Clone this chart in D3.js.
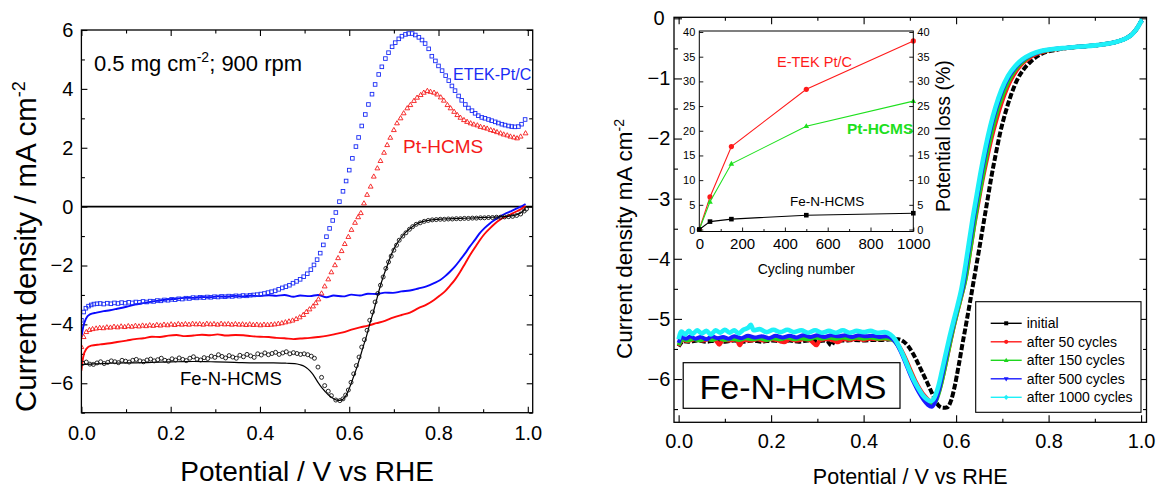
<!DOCTYPE html>
<html>
<head>
<meta charset="utf-8">
<script src="https://cdn.jsdelivr.net/npm/d3@7"></script>
<style>
  body { margin: 0; background: #fff; }
  svg text { font-family: Arial, "Liberation Sans", Helvetica, sans-serif; }
</style>
</head>
<body>
<svg id="chart" width="1161" height="488"></svg>
<script>
// ---------- Left panel: ORR polarisation, 0.5 mg cm-2, 900 rpm ----------
const potentialTicks = [0, 0.2, 0.4, 0.6, 0.8, 1.0];
const potentialMinorTicks = [0.1, 0.3, 0.5, 0.7, 0.9];
const currentTicksLeft = [-6, -4, -2, 0, 2, 4, 6];
const currentMinorTicksLeft = [-7, -5, -3, -1, 1, 3, 5];

// ETEK-Pt/C, open squares
const etekPtC_markers = [
  [0.000,-3.86],[0.005,-3.58],[0.010,-3.45],[0.016,-3.38],[0.022,-3.34],[0.028,-3.31],[0.035,-3.30],[0.042,-3.29],
  [0.050,-3.31],[0.058,-3.28],[0.066,-3.30],[0.074,-3.27],[0.082,-3.29],[0.090,-3.26],[0.098,-3.28],[0.106,-3.25],
  [0.114,-3.27],[0.122,-3.24],[0.130,-3.25],[0.138,-3.22],[0.146,-3.24],[0.154,-3.21],[0.162,-3.22],[0.170,-3.19],
  [0.178,-3.20],[0.186,-3.17],[0.194,-3.18],[0.202,-3.15],[0.210,-3.16],[0.218,-3.13],[0.226,-3.14],[0.234,-3.11],
  [0.242,-3.12],[0.250,-3.09],[0.258,-3.10],[0.266,-3.08],[0.274,-3.09],[0.282,-3.07],[0.290,-3.08],[0.298,-3.06],
  [0.306,-3.07],[0.314,-3.05],[0.322,-3.06],[0.330,-3.04],[0.338,-3.05],[0.346,-3.03],[0.354,-3.04],[0.362,-3.02],
  [0.370,-3.03],[0.378,-3.01],[0.386,-3.00],[0.394,-2.99],[0.402,-2.97],[0.410,-2.95],[0.418,-2.92],[0.426,-2.89],
  [0.434,-2.86],[0.442,-2.81],[0.450,-2.76],[0.458,-2.72],[0.466,-2.67],[0.474,-2.60],[0.482,-2.54],[0.490,-2.47],
  [0.498,-2.38],[0.506,-2.28],[0.514,-2.14],[0.521,-1.98],[0.528,-1.80],[0.535,-1.58],[0.542,-1.30],[0.549,-1.02],
  [0.556,-0.74],[0.563,-0.47],[0.570,-0.20],[0.578,0.17],[0.586,0.52],[0.593,0.87],[0.600,1.24],[0.607,1.64],
  [0.615,2.04],[0.621,2.35],[0.628,2.74],[0.636,3.13],[0.643,3.47],[0.651,3.82],[0.658,4.15],[0.666,4.49],
  [0.673,4.75],[0.681,5.03],[0.688,5.23],[0.696,5.43],[0.703,5.57],[0.711,5.70],[0.718,5.79],[0.726,5.85],
  [0.733,5.88],[0.741,5.88],[0.748,5.83],[0.756,5.75],[0.763,5.66],[0.770,5.54],[0.778,5.36],[0.785,5.11],
  [0.793,4.95],[0.800,4.78],[0.808,4.62],[0.816,4.45],[0.823,4.28],[0.830,4.10],[0.837,3.94],[0.845,3.76],
  [0.852,3.61],[0.860,3.47],[0.867,3.35],[0.875,3.26],[0.882,3.17],[0.889,3.09],[0.897,3.03],[0.904,3.00],
  [0.912,2.96],[0.919,2.92],[0.927,2.88],[0.934,2.84],[0.942,2.80],[0.949,2.77],[0.957,2.74],[0.964,2.72],
  [0.971,2.71],[0.979,2.72],[0.986,2.80],[0.994,2.96]
];
// ETEK-Pt/C, solid line
const etekPtC_curve = [
  [0,-4.45],[0.004,-4.09],[0.010,-3.81],[0.019,-3.66],[0.034,-3.60],[0.050,-3.55],[0.064,-3.52],[0.080,-3.47],
  [0.101,-3.40],[0.120,-3.33],[0.139,-3.28],[0.160,-3.22],[0.176,-3.19],[0.195,-3.15],[0.213,-3.13],[0.230,-3.10],
  [0.251,-3.10],[0.270,-3.07],[0.288,-3.08],[0.305,-3.05],[0.325,-3.06],[0.345,-3.03],[0.363,-3.05],[0.380,-3.02],
  [0.400,-3.04],[0.420,-3.01],[0.437,-3.03],[0.455,-3.00],[0.475,-3.06],[0.490,-3.02],[0.512,-3.04],[0.530,-3.00],
  [0.549,-3.08],[0.565,-3.02],[0.586,-3.05],[0.605,-2.99],[0.624,-3.02],[0.642,-2.96],[0.661,-2.97],[0.680,-2.92],
  [0.698,-2.93],[0.717,-2.88],[0.736,-2.85],[0.755,-2.78],[0.773,-2.71],[0.790,-2.60],[0.803,-2.50],[0.815,-2.36],
  [0.825,-2.22],[0.837,-2.03],[0.848,-1.82],[0.860,-1.58],[0.870,-1.36],[0.882,-1.12],[0.892,-0.91],[0.903,-0.73],
  [0.915,-0.57],[0.926,-0.45],[0.937,-0.34],[0.948,-0.25],[0.960,-0.17],[0.971,-0.09],[0.982,-0.02],[0.995,0.09]
];
// Pt-HCMS, open triangles
const ptHcms_markers = [
  [0.000,-4.77],[0.005,-4.43],[0.011,-4.26],[0.018,-4.19],[0.025,-4.16],[0.033,-4.14],[0.041,-4.12],[0.049,-4.13],
  [0.057,-4.10],[0.065,-4.11],[0.073,-4.08],[0.081,-4.10],[0.089,-4.07],[0.097,-4.09],[0.105,-4.06],[0.113,-4.08],
  [0.121,-4.05],[0.129,-4.07],[0.137,-4.04],[0.145,-4.06],[0.153,-4.03],[0.161,-4.05],[0.169,-4.02],[0.177,-4.04],
  [0.185,-4.01],[0.193,-4.03],[0.201,-4.00],[0.209,-4.02],[0.217,-3.99],[0.225,-4.01],[0.233,-3.99],[0.241,-4.01],
  [0.249,-3.98],[0.257,-4.00],[0.265,-3.99],[0.273,-4.01],[0.281,-3.98],[0.289,-4.00],[0.297,-3.99],[0.305,-4.01],
  [0.313,-3.98],[0.321,-4.00],[0.329,-3.99],[0.337,-4.01],[0.345,-3.99],[0.353,-4.01],[0.361,-4.00],[0.369,-4.02],
  [0.377,-4.00],[0.385,-4.02],[0.393,-4.01],[0.401,-4.03],[0.409,-4.01],[0.417,-4.02],[0.425,-4.01],[0.433,-4.00],
  [0.441,-3.98],[0.449,-3.96],[0.457,-3.93],[0.465,-3.90],[0.473,-3.87],[0.481,-3.82],[0.489,-3.76],[0.497,-3.68],
  [0.504,-3.58],[0.511,-3.49],[0.519,-3.39],[0.525,-3.28],[0.531,-3.15],[0.538,-2.95],[0.545,-2.71],[0.553,-2.47],
  [0.560,-2.23],[0.568,-1.99],[0.575,-1.75],[0.583,-1.51],[0.590,-1.27],[0.598,-1.03],[0.605,-0.79],[0.613,-0.55],
  [0.620,-0.36],[0.626,-0.22],[0.633,0.11],[0.640,0.40],[0.648,0.68],[0.655,1.02],[0.663,1.30],[0.670,1.55],
  [0.678,1.83],[0.685,2.09],[0.692,2.34],[0.700,2.60],[0.707,2.83],[0.715,3.00],[0.722,3.17],[0.730,3.34],
  [0.737,3.45],[0.745,3.59],[0.752,3.70],[0.760,3.79],[0.767,3.87],[0.775,3.93],[0.782,3.90],[0.790,3.87],
  [0.797,3.81],[0.805,3.71],[0.812,3.60],[0.820,3.45],[0.827,3.34],[0.835,3.22],[0.842,3.11],[0.849,3.02],
  [0.857,2.94],[0.864,2.88],[0.872,2.83],[0.879,2.79],[0.887,2.76],[0.894,2.71],[0.902,2.68],[0.909,2.65],
  [0.917,2.60],[0.924,2.57],[0.931,2.53],[0.939,2.49],[0.946,2.45],[0.954,2.42],[0.961,2.38],[0.969,2.35],
  [0.976,2.32],[0.984,2.38],[0.995,2.49]
];
// Pt-HCMS, solid line
const ptHcms_curve = [
  [0,-5.57],[0.004,-5.11],[0.011,-4.83],[0.022,-4.72],[0.042,-4.68],[0.064,-4.64],[0.080,-4.60],[0.101,-4.55],
  [0.120,-4.50],[0.139,-4.47],[0.158,-4.42],[0.176,-4.43],[0.195,-4.38],[0.213,-4.36],[0.232,-4.40],[0.251,-4.38],
  [0.270,-4.35],[0.288,-4.37],[0.305,-4.34],[0.325,-4.38],[0.345,-4.36],[0.363,-4.37],[0.380,-4.40],[0.400,-4.42],
  [0.420,-4.43],[0.437,-4.46],[0.455,-4.47],[0.475,-4.50],[0.490,-4.48],[0.512,-4.46],[0.530,-4.43],[0.549,-4.39],
  [0.568,-4.33],[0.586,-4.27],[0.605,-4.18],[0.624,-4.10],[0.642,-4.04],[0.661,-3.96],[0.680,-3.88],[0.698,-3.77],
  [0.717,-3.68],[0.736,-3.60],[0.755,-3.45],[0.773,-3.33],[0.790,-3.17],[0.803,-3.02],[0.815,-2.87],[0.825,-2.70],
  [0.837,-2.48],[0.848,-2.23],[0.860,-1.92],[0.870,-1.66],[0.882,-1.38],[0.892,-1.15],[0.903,-0.93],[0.915,-0.74],
  [0.926,-0.58],[0.937,-0.45],[0.948,-0.36],[0.960,-0.28],[0.971,-0.19],[0.982,-0.11],[0.995,0.02]
];
// Fe-N-HCMS, open circles
const feNHcms_markers = [
  [0.003,-5.32],[0.011,-5.28],[0.019,-5.35],[0.027,-5.36],[0.035,-5.31],[0.043,-5.27],[0.051,-5.33],[0.059,-5.29],
  [0.067,-5.24],[0.075,-5.27],[0.083,-5.30],[0.091,-5.22],[0.099,-5.25],[0.107,-5.28],[0.115,-5.22],[0.123,-5.19],
  [0.131,-5.24],[0.139,-5.27],[0.147,-5.21],[0.155,-5.18],[0.163,-5.24],[0.171,-5.20],[0.179,-5.15],[0.187,-5.22],
  [0.195,-5.25],[0.203,-5.17],[0.211,-5.21],[0.219,-5.14],[0.227,-5.19],[0.235,-5.23],[0.243,-5.15],[0.251,-5.10],
  [0.259,-5.18],[0.267,-5.21],[0.275,-5.13],[0.283,-5.16],[0.291,-5.08],[0.299,-5.12],[0.307,-5.03],[0.315,-5.09],
  [0.323,-5.14],[0.331,-5.06],[0.339,-5.11],[0.347,-5.15],[0.355,-5.05],[0.363,-5.10],[0.371,-5.02],[0.379,-5.07],
  [0.387,-5.12],[0.395,-5.00],[0.403,-5.04],[0.411,-4.97],[0.419,-5.03],[0.427,-4.99],[0.435,-4.95],[0.443,-5.02],
  [0.451,-4.97],[0.459,-4.93],[0.467,-5.00],[0.475,-4.96],[0.483,-4.99],[0.491,-5.02],[0.499,-5.00],[0.507,-5.03],
  [0.515,-5.08],[0.522,-5.15],[0.530,-5.45],[0.538,-5.80],[0.545,-6.08],[0.553,-6.27],[0.560,-6.42],[0.570,-6.57],
  [0.579,-6.59],[0.586,-6.53],[0.592,-6.40],[0.598,-6.23],[0.604,-5.97],[0.610,-5.68],[0.616,-5.40],[0.622,-5.11],
  [0.628,-4.77],[0.634,-4.52],[0.640,-4.20],[0.646,-3.86],[0.652,-3.58],[0.658,-3.24],[0.664,-2.95],[0.670,-2.67],
  [0.676,-2.39],[0.682,-2.10],[0.688,-1.88],[0.694,-1.68],[0.700,-1.48],[0.706,-1.31],[0.712,-1.14],[0.720,-1.00],
  [0.727,-0.89],[0.735,-0.77],[0.742,-0.68],[0.750,-0.60],[0.759,-0.55],[0.768,-0.50],[0.777,-0.47],[0.786,-0.45],
  [0.795,-0.44],[0.804,-0.43],[0.813,-0.43],[0.822,-0.42],[0.831,-0.42],[0.840,-0.41],[0.849,-0.41],[0.858,-0.40],
  [0.867,-0.40],[0.876,-0.39],[0.885,-0.39],[0.894,-0.38],[0.903,-0.38],[0.912,-0.37],[0.921,-0.37],[0.930,-0.36],
  [0.939,-0.36],[0.948,-0.35],[0.957,-0.34],[0.966,-0.33],[0.975,-0.30],[0.984,-0.25],[0.992,-0.15],[0.997,-0.08]
];
// Fe-N-HCMS, solid line
const feNHcms_curve = [
  [0,-5.37],[0.027,-5.34],[0.064,-5.32],[0.101,-5.31],[0.140,-5.30],[0.176,-5.28],[0.215,-5.27],[0.251,-5.26],
  [0.290,-5.27],[0.325,-5.28],[0.360,-5.30],[0.400,-5.31],[0.430,-5.31],[0.460,-5.32],[0.478,-5.33],[0.490,-5.37],
  [0.500,-5.43],[0.508,-5.52],[0.516,-5.65],[0.523,-5.80],[0.530,-5.97],[0.538,-6.14],[0.546,-6.28],[0.553,-6.39],
  [0.561,-6.48],[0.568,-6.55],[0.575,-6.58],[0.582,-6.57],[0.590,-6.48],[0.596,-6.32],[0.601,-6.14],[0.608,-5.85],
  [0.616,-5.51],[0.624,-5.13],[0.631,-4.77],[0.639,-4.38],[0.646,-3.98],[0.654,-3.58],[0.661,-3.18],[0.668,-2.78],
  [0.676,-2.39],[0.684,-2.05],[0.691,-1.76],[0.698,-1.50],[0.706,-1.28],[0.717,-1.04],[0.728,-0.85],[0.740,-0.70],
  [0.751,-0.59],[0.762,-0.52],[0.773,-0.48],[0.790,-0.44],[0.811,-0.42],[0.850,-0.40],[0.886,-0.38],[0.920,-0.36],
  [0.945,-0.34],[0.960,-0.32],[0.972,-0.29],[0.982,-0.23],[0.990,-0.15],[0.995,-0.06]
];

// ---------- Right panel: Fe-N-HCMS durability ----------
const currentTicksRight = [-6, -5, -4, -3, -2, -1, 0];
const currentMinorTicksRight = [-6.5, -5.5, -4.5, -3.5, -2.5, -1.5, -0.5];
const cycleLabels = ["initial", "after 50 cycles", "after 150 cycles", "after 500 cycles", "after 1000 cycles"];
const cycleColors = ["#000000", "#ff1a1a", "#1ed61e", "#1a1aff", "#1ef0f8"];

const cyclesInitial = [
  [0.000,-5.46],[0.010,-5.37],[0.025,-5.38],[0.040,-5.36],[0.060,-5.38],[0.080,-5.36],[0.100,-5.38],[0.120,-5.36],
  [0.140,-5.38],[0.160,-5.36],[0.180,-5.38],[0.200,-5.36],[0.220,-5.37],[0.240,-5.36],[0.260,-5.38],[0.280,-5.36],
  [0.300,-5.37],[0.320,-5.36],[0.330,-5.44],[0.338,-5.36],[0.360,-5.36],[0.380,-5.35],[0.400,-5.36],[0.420,-5.35],
  [0.440,-5.35],[0.460,-5.34],[0.475,-5.34],[0.487,-5.38],[0.497,-5.46],[0.507,-5.58],[0.517,-5.73],[0.527,-5.89],
  [0.537,-6.05],[0.547,-6.22],[0.555,-6.35],[0.563,-6.45],[0.572,-6.48],[0.581,-6.47],[0.589,-6.36],[0.597,-6.12],
  [0.605,-5.80],[0.613,-5.45],[0.622,-5.07],[0.631,-4.68],[0.640,-4.28],[0.649,-3.88],[0.658,-3.47],[0.667,-3.06],
  [0.676,-2.65],[0.686,-2.25],[0.696,-1.88],[0.707,-1.56],[0.719,-1.27],[0.731,-1.04],[0.745,-0.86],[0.760,-0.73],
  [0.776,-0.63],[0.795,-0.56],[0.820,-0.52],[0.845,-0.49],[0.870,-0.47],[0.900,-0.45],[0.930,-0.42],[0.952,-0.38],
  [0.968,-0.33],[0.980,-0.27],[0.989,-0.19],[0.995,-0.12],[0.999,-0.06],[1.003,-0.03]
];
const cycles50 = [
  [0.000,-5.45],[0.008,-5.35],[0.020,-5.37],[0.035,-5.34],[0.050,-5.36],[0.065,-5.34],[0.080,-5.36],[0.088,-5.43],
  [0.096,-5.35],[0.110,-5.36],[0.125,-5.34],[0.132,-5.44],[0.140,-5.35],[0.155,-5.36],[0.170,-5.34],[0.185,-5.36],
  [0.200,-5.34],[0.215,-5.36],[0.228,-5.39],[0.240,-5.34],[0.255,-5.36],[0.270,-5.34],[0.285,-5.36],[0.298,-5.44],
  [0.306,-5.35],[0.320,-5.34],[0.335,-5.36],[0.345,-5.39],[0.355,-5.34],[0.370,-5.35],[0.385,-5.33],[0.400,-5.35],
  [0.415,-5.33],[0.430,-5.34],[0.445,-5.33],[0.460,-5.34],[0.472,-5.40],[0.482,-5.52],[0.492,-5.68],[0.502,-5.86],
  [0.512,-6.03],[0.522,-6.17],[0.532,-6.28],[0.541,-6.35],[0.549,-6.37],[0.556,-6.34],[0.563,-6.21],[0.571,-5.98],
  [0.579,-5.70],[0.587,-5.41],[0.595,-5.13],[0.604,-4.85],[0.613,-4.58],[0.622,-4.28],[0.630,-3.90],[0.638,-3.51],
  [0.647,-3.12],[0.656,-2.74],[0.666,-2.37],[0.676,-2.02],[0.687,-1.70],[0.698,-1.42],[0.711,-1.15],[0.725,-0.94],
  [0.740,-0.78],[0.757,-0.67],[0.775,-0.59],[0.796,-0.54],[0.818,-0.51],[0.845,-0.49],[0.870,-0.47],[0.900,-0.45],
  [0.930,-0.42],[0.952,-0.38],[0.968,-0.33],[0.980,-0.27],[0.989,-0.19],[0.995,-0.12],[0.999,-0.06],[1.003,-0.03]
];
const cycles150 = [
  [0.000,-5.44],[0.008,-5.34],[0.020,-5.36],[0.032,-5.33],[0.045,-5.36],[0.058,-5.33],[0.072,-5.35],[0.086,-5.32],
  [0.100,-5.35],[0.115,-5.33],[0.130,-5.35],[0.145,-5.32],[0.160,-5.34],[0.175,-5.32],[0.190,-5.35],[0.205,-5.32],
  [0.220,-5.34],[0.235,-5.31],[0.250,-5.34],[0.265,-5.32],[0.280,-5.34],[0.295,-5.31],[0.310,-5.33],[0.325,-5.31],
  [0.340,-5.33],[0.355,-5.31],[0.370,-5.33],[0.385,-5.31],[0.400,-5.33],[0.415,-5.31],[0.430,-5.33],[0.445,-5.32],
  [0.458,-5.33],[0.468,-5.38],[0.478,-5.49],[0.488,-5.64],[0.498,-5.82],[0.508,-6.00],[0.518,-6.16],[0.528,-6.29],
  [0.538,-6.38],[0.546,-6.42],[0.553,-6.41],[0.560,-6.30],[0.568,-6.08],[0.576,-5.80],[0.584,-5.51],[0.592,-5.22],
  [0.601,-4.93],[0.610,-4.66],[0.620,-4.35],[0.628,-3.98],[0.636,-3.59],[0.644,-3.20],[0.653,-2.82],[0.662,-2.44],
  [0.672,-2.07],[0.682,-1.74],[0.693,-1.45],[0.706,-1.17],[0.720,-0.95],[0.735,-0.79],[0.752,-0.67],[0.770,-0.59],
  [0.792,-0.54],[0.815,-0.51],[0.842,-0.49],[0.870,-0.47],[0.900,-0.45],[0.930,-0.42],[0.952,-0.38],[0.968,-0.33],
  [0.980,-0.27],[0.989,-0.19],[0.995,-0.12],[0.999,-0.06],[1.003,-0.03]
];
const cycles500 = [
  [0.000,-5.40],[0.006,-5.30],[0.016,-5.33],[0.026,-5.29],[0.036,-5.33],[0.048,-5.30],[0.060,-5.34],[0.072,-5.29],
  [0.084,-5.32],[0.096,-5.30],[0.108,-5.33],[0.120,-5.29],[0.135,-5.32],[0.150,-5.28],[0.165,-5.31],[0.180,-5.29],
  [0.195,-5.32],[0.210,-5.28],[0.225,-5.31],[0.240,-5.28],[0.255,-5.31],[0.270,-5.27],[0.285,-5.30],[0.300,-5.27],
  [0.315,-5.30],[0.330,-5.27],[0.345,-5.29],[0.360,-5.27],[0.375,-5.30],[0.390,-5.27],[0.405,-5.29],[0.420,-5.28],
  [0.435,-5.30],[0.448,-5.29],[0.460,-5.32],[0.470,-5.40],[0.480,-5.54],[0.490,-5.72],[0.500,-5.91],[0.510,-6.08],
  [0.520,-6.23],[0.530,-6.35],[0.539,-6.43],[0.547,-6.46],[0.555,-6.38],[0.563,-6.18],[0.571,-5.90],[0.579,-5.61],
  [0.587,-5.32],[0.596,-5.03],[0.605,-4.75],[0.615,-4.45],[0.623,-4.07],[0.631,-3.68],[0.639,-3.28],[0.648,-2.88],
  [0.657,-2.49],[0.667,-2.11],[0.677,-1.77],[0.688,-1.47],[0.701,-1.18],[0.715,-0.96],[0.730,-0.80],[0.747,-0.68],
  [0.765,-0.60],[0.788,-0.54],[0.812,-0.51],[0.840,-0.49],[0.870,-0.47],[0.900,-0.45],[0.930,-0.42],[0.952,-0.38],
  [0.968,-0.33],[0.980,-0.27],[0.989,-0.19],[0.995,-0.12],[0.999,-0.06],[1.003,-0.03]
];
const cycles1000 = [
  [0.000,-5.34],[0.006,-5.21],[0.014,-5.26],[0.022,-5.20],[0.030,-5.25],[0.040,-5.19],[0.050,-5.24],[0.060,-5.20],
  [0.070,-5.26],[0.080,-5.19],[0.090,-5.23],[0.100,-5.18],[0.110,-5.23],[0.120,-5.19],[0.130,-5.24],[0.140,-5.18],
  [0.150,-5.15],[0.156,-5.10],[0.162,-5.19],[0.175,-5.17],[0.190,-5.22],[0.205,-5.18],[0.220,-5.22],[0.235,-5.18],
  [0.250,-5.22],[0.265,-5.19],[0.280,-5.23],[0.295,-5.19],[0.310,-5.23],[0.325,-5.20],[0.340,-5.23],[0.355,-5.19],
  [0.370,-5.23],[0.385,-5.20],[0.400,-5.22],[0.415,-5.20],[0.430,-5.23],[0.445,-5.22],[0.458,-5.26],[0.468,-5.34],
  [0.478,-5.48],[0.488,-5.65],[0.498,-5.84],[0.508,-6.01],[0.518,-6.15],[0.528,-6.27],[0.537,-6.34],[0.545,-6.37],
  [0.553,-6.31],[0.561,-6.14],[0.569,-5.88],[0.577,-5.60],[0.585,-5.33],[0.594,-5.05],[0.603,-4.78],[0.612,-4.48],
  [0.620,-4.12],[0.628,-3.72],[0.636,-3.32],[0.645,-2.92],[0.654,-2.52],[0.664,-2.13],[0.674,-1.79],[0.685,-1.48],
  [0.698,-1.19],[0.712,-0.96],[0.727,-0.80],[0.744,-0.68],[0.762,-0.60],[0.785,-0.54],[0.810,-0.51],[0.840,-0.49],
  [0.870,-0.47],[0.900,-0.45],[0.930,-0.42],[0.952,-0.38],[0.968,-0.33],[0.980,-0.27],[0.989,-0.19],[0.995,-0.12],
  [0.999,-0.06],[1.003,-0.03]
];

// Inset: potential loss vs cycling number
const cyclingNumber = [0, 50, 150, 500, 1000];
const lossEtekPtC = [0, 6.6, 16.8, 28.4, 38.2];
const lossPtHcms = [0, 5.6, 13.3, 20.9, 26.0];
const lossFeNHcms = [0, 1.6, 2.1, 2.9, 3.3];
const insetCycleTicks = [0, 200, 400, 600, 800, 1000];
const insetCycleMinorTicks = [100, 300, 500, 700, 900];
const insetLossTicks = [0, 5, 10, 15, 20, 25, 30, 35, 40];

// ---------- drawing ----------
const svg = d3.select("#chart");
const fmt1 = d3.format(".1f");

function styleAxis(g, fontSize) {
  g.select(".domain").remove();
  g.selectAll(".tick line").attr("stroke", "#000").attr("stroke-width", 1.1);
  g.selectAll("text").attr("font-size", fontSize).attr("fill", "#000");
  return g;
}
function addAxis(parent, gen, tx, ty, fontSize) {
  const g = parent.append("g").attr("transform", `translate(${tx},${ty})`).call(gen);
  return styleAxis(g, fontSize || 10);
}

const trianglePath = "M0,-2.7L2.4,1.5L-2.4,1.5Z";

// ===== Left panel =====
const L = { x0: 81.4, x1: 532.7, y0: 30, y1: 412.7 };
const xL = d3.scaleLinear().domain([0, 1.011]).range([L.x0, L.x1]);
const yL = d3.scaleLinear().domain([-7, 6]).range([L.y1, L.y0]);
const gL = svg.append("g");
gL.append("clipPath").attr("id", "clipL").append("rect")
  .attr("x", L.x0).attr("y", L.y0).attr("width", L.x1 - L.x0).attr("height", L.y1 - L.y0);

addAxis(gL, d3.axisBottom(xL).tickValues(potentialTicks).tickFormat(fmt1).tickSize(-6).tickPadding(13).tickSizeOuter(0), 0, L.y1, 20);
addAxis(gL, d3.axisBottom(xL).tickValues(potentialMinorTicks).tickFormat("").tickSize(-3.5).tickSizeOuter(0), 0, L.y1);
addAxis(gL, d3.axisTop(xL).tickValues(potentialTicks).tickFormat("").tickSize(-6).tickSizeOuter(0), 0, L.y0);
addAxis(gL, d3.axisTop(xL).tickValues(potentialMinorTicks).tickFormat("").tickSize(-3.5).tickSizeOuter(0), 0, L.y0);
addAxis(gL, d3.axisLeft(yL).tickValues(currentTicksLeft).tickFormat(d3.format("d")).tickSize(-6).tickPadding(8).tickSizeOuter(0), L.x0, 0, 20);
addAxis(gL, d3.axisLeft(yL).tickValues(currentMinorTicksLeft).tickFormat("").tickSize(-3.5).tickSizeOuter(0), L.x0, 0);
addAxis(gL, d3.axisRight(yL).tickValues(currentTicksLeft).tickFormat("").tickSize(-6).tickSizeOuter(0), L.x1, 0);
addAxis(gL, d3.axisRight(yL).tickValues(currentMinorTicksLeft).tickFormat("").tickSize(-3.5).tickSizeOuter(0), L.x1, 0);

const plotL = gL.append("g").attr("clip-path", "url(#clipL)");
// zero-current line
plotL.append("line").attr("x1", L.x0).attr("x2", L.x1).attr("y1", yL(0)).attr("y2", yL(0))
  .attr("stroke", "#000").attr("stroke-width", 1.6);

const lineL = d3.line().x(d => xL(d[0])).y(d => yL(d[1])).curve(d3.curveMonotoneX);
plotL.append("path").datum(etekPtC_curve).attr("d", lineL).attr("fill", "none").attr("stroke", "#0a0aff").attr("stroke-width", 1.9);
plotL.append("path").datum(ptHcms_curve).attr("d", lineL).attr("fill", "none").attr("stroke", "#ff0a0a").attr("stroke-width", 1.9);
plotL.append("path").datum(feNHcms_curve).attr("d", lineL).attr("fill", "none").attr("stroke", "#000").attr("stroke-width", 1.2);

plotL.append("g").selectAll("rect").data(etekPtC_markers).join("rect")
  .attr("x", d => xL(d[0]) - 1.8).attr("y", d => yL(d[1]) - 1.8).attr("width", 3.6).attr("height", 3.6)
  .attr("fill", "none").attr("stroke", "#1a2cf5").attr("stroke-width", 0.9);
plotL.append("g").selectAll("path").data(ptHcms_markers).join("path")
  .attr("transform", d => `translate(${xL(d[0])},${yL(d[1])})`).attr("d", trianglePath)
  .attr("fill", "none").attr("stroke", "#f51a1a").attr("stroke-width", 0.9);
plotL.append("g").selectAll("circle").data(feNHcms_markers).join("circle")
  .attr("cx", d => xL(d[0])).attr("cy", d => yL(d[1])).attr("r", 2)
  .attr("fill", "none").attr("stroke", "#111").attr("stroke-width", 0.9);

gL.append("rect").attr("x", L.x0).attr("y", L.y0).attr("width", L.x1 - L.x0).attr("height", L.y1 - L.y0)
  .attr("fill", "none").attr("stroke", "#000").attr("stroke-width", 1.3);

// annotations
const ann = gL.append("text").attr("x", 94).attr("y", 71).attr("font-size", 22).attr("fill", "#000");
ann.append("tspan").text("0.5 mg cm");
ann.append("tspan").attr("dy", -9).attr("font-size", 14).text("-2");
ann.append("tspan").attr("dy", 9).text("; 900 rpm");
gL.append("text").attr("x", 453).attr("y", 80).attr("font-size", 16).attr("fill", "#1a2cf5").text("ETEK-Pt/C");
gL.append("text").attr("x", 403).attr("y", 153).attr("font-size", 19).attr("fill", "#f51a1a").text("Pt-HCMS");
gL.append("text").attr("x", 180).attr("y", 385).attr("font-size", 18.5).attr("fill", "#000").text("Fe-N-HCMS");

gL.append("text").attr("x", (L.x0 + L.x1) / 2).attr("y", 481).attr("text-anchor", "middle")
  .attr("font-size", 28).text("Potential / V vs RHE");
const ytL = gL.append("text").attr("transform", "translate(36,412) rotate(-90)").attr("font-size", 29.5);
ytL.append("tspan").text("Current density / mA cm");
ytL.append("tspan").attr("dy", -11).attr("font-size", 18).text("-2");

// ===== Right panel =====
const R = { x0: 674, x1: 1146.5, y0: 17.3, y1: 422.3 };
const xR = d3.scaleLinear().domain([-0.01, 1.0117]).range([R.x0, R.x1]);
const yR = d3.scaleLinear().domain([-6.72, 0.017]).range([R.y1, R.y0]);
const gR = svg.append("g");
gR.append("clipPath").attr("id", "clipR").append("rect")
  .attr("x", R.x0).attr("y", R.y0).attr("width", R.x1 - R.x0).attr("height", R.y1 - R.y0);

addAxis(gR, d3.axisBottom(xR).tickValues(potentialTicks).tickFormat(fmt1).tickSize(-7).tickPadding(11.5).tickSizeOuter(0), 0, R.y1, 20);
addAxis(gR, d3.axisBottom(xR).tickValues(potentialMinorTicks).tickFormat("").tickSize(-3.5).tickSizeOuter(0), 0, R.y1);
addAxis(gR, d3.axisTop(xR).tickValues(potentialTicks).tickFormat("").tickSize(-7).tickSizeOuter(0), 0, R.y0);
addAxis(gR, d3.axisTop(xR).tickValues(potentialMinorTicks).tickFormat("").tickSize(-3.5).tickSizeOuter(0), 0, R.y0);
const leftR = addAxis(gR, d3.axisLeft(yR).tickValues(currentTicksRight).tickFormat(d3.format("d")).tickSize(-8).tickPadding(15).tickSizeOuter(0), R.x0, 0, 20);
leftR.selectAll("text").attr("text-anchor", "middle");
addAxis(gR, d3.axisLeft(yR).tickValues(currentMinorTicksRight).tickFormat("").tickSize(-4).tickSizeOuter(0), R.x0, 0);
addAxis(gR, d3.axisRight(yR).tickValues(currentTicksRight).tickFormat("").tickSize(-7).tickSizeOuter(0), R.x1, 0);
addAxis(gR, d3.axisRight(yR).tickValues(currentMinorTicksRight).tickFormat("").tickSize(-3.5).tickSizeOuter(0), R.x1, 0);

const plotR = gR.append("g").attr("clip-path", "url(#clipR)");
const lineR = d3.line().x(d => xR(d[0])).y(d => yR(d[1])).curve(d3.curveMonotoneX);
const cycleSeries = [cyclesInitial, cycles50, cycles150, cycles500, cycles1000];
cycleSeries.forEach((s, i) => {
  plotR.append("path").datum(s).attr("d", lineR).attr("fill", "none")
    .attr("stroke", cycleColors[i]).attr("stroke-width", i === 4 ? 4.6 : 4)
    .attr("stroke-linejoin", "round")
    .attr("stroke-dasharray", i === 0 ? "6 2" : null);
});

gR.append("rect").attr("x", R.x0).attr("y", R.y0).attr("width", R.x1 - R.x0).attr("height", R.y1 - R.y0)
  .attr("fill", "none").attr("stroke", "#000").attr("stroke-width", 1.3);

// sample label box
gR.append("rect").attr("x", 683.2).attr("y", 362.7).attr("width", 216.8).attr("height", 45.6)
  .attr("fill", "#fff").attr("stroke", "#000").attr("stroke-width", 1.2);
gR.append("text").attr("x", 699.5).attr("y", 398.5).attr("font-size", 34).text("Fe-N-HCMS");

// legend
const legend = gR.append("g");
legend.append("rect").attr("x", 975.7).attr("y", 301.7).attr("width", 165.3).attr("height", 110.6)
  .attr("fill", "#fff").attr("stroke", "#000").attr("stroke-width", 1.1);
const legendMarks = [
  g => g.append("rect").attr("x", -2).attr("y", -2).attr("width", 4).attr("height", 4),
  g => g.append("circle").attr("r", 2.1),
  g => g.append("path").attr("d", "M0,-2.6L2.4,1.6L-2.4,1.6Z"),
  g => g.append("path").attr("d", "M0,2.6L2.4,-1.6L-2.4,-1.6Z"),
  g => g.append("path").attr("d", "M0,-2.6L2.4,0L0,2.6L-2.4,0Z")
];
cycleLabels.forEach((lab, i) => {
  const cy = 323.3 + i * 18.5;
  legend.append("line").attr("x1", 990.7).attr("x2", 1021.7).attr("y1", cy).attr("y2", cy)
    .attr("stroke", cycleColors[i]).attr("stroke-width", 1.4);
  const mg = legend.append("g").attr("transform", `translate(1006.2,${cy})`).attr("fill", cycleColors[i]);
  legendMarks[i](mg);
  legend.append("text").attr("x", 1026.7).attr("y", cy + 5).attr("font-size", 14).text(lab);
});

gR.append("text").attr("x", (R.x0 + R.x1) / 2).attr("y", 483.5).attr("text-anchor", "middle")
  .attr("font-size", 21.5).text("Potential / V vs RHE");
const ytR = gR.append("text").attr("transform", "translate(632,359) rotate(-90)").attr("font-size", 22.5);
ytR.append("tspan").text("Current density mA cm");
ytR.append("tspan").attr("dy", -8).attr("font-size", 14).text("-2");

// ===== Inset =====
const I = { x0: 699.3, x1: 913.3, y0: 31, y1: 231.5 };
const xI = d3.scaleLinear().domain([0, 1000]).range([I.x0, I.x1]);
const yI = d3.scaleLinear().domain([0, 40]).range([229.5, 32]);
const gI = svg.append("g");
gI.append("rect").attr("x", I.x0).attr("y", I.y0).attr("width", I.x1 - I.x0).attr("height", I.y1 - I.y0)
  .attr("fill", "#fff").attr("stroke", "none");
addAxis(gI, d3.axisBottom(xI).tickValues(insetCycleTicks).tickFormat(d3.format("d")).tickSize(-4).tickPadding(7).tickSizeOuter(0), 0, I.y1, 15);
addAxis(gI, d3.axisBottom(xI).tickValues(insetCycleMinorTicks).tickFormat("").tickSize(-2.5).tickSizeOuter(0), 0, I.y1);
addAxis(gI, d3.axisLeft(yI).tickValues(insetLossTicks).tickFormat(d3.format("d")).tickSize(-4).tickPadding(4).tickSizeOuter(0), I.x0, 0, 11);
addAxis(gI, d3.axisRight(yI).tickValues(insetLossTicks).tickFormat(d3.format("d")).tickSize(-4).tickPadding(4).tickSizeOuter(0), I.x1, 0, 11);
gI.selectAll(".tick line").attr("stroke-width", 0.9);

const insetSeries = [
  { v: lossEtekPtC, color: "#ff1a1a", mark: "circle" },
  { v: lossPtHcms, color: "#1ee01e", mark: "triangle" },
  { v: lossFeNHcms, color: "#000", mark: "square" }
];
const lineI = d3.line().x(d => xI(d[0])).y(d => yI(d[1]));
insetSeries.forEach(s => {
  const pts = cyclingNumber.map((c, i) => [c, s.v[i]]);
  gI.append("path").datum(pts).attr("d", lineI).attr("fill", "none").attr("stroke", s.color).attr("stroke-width", 1.1);
  const mg = gI.append("g").attr("fill", s.color);
  pts.forEach(p => {
    const cx = xI(p[0]), cy = yI(p[1]);
    if (s.mark === "circle") mg.append("circle").attr("cx", cx).attr("cy", cy).attr("r", 2.6);
    else if (s.mark === "triangle") mg.append("path").attr("transform", `translate(${cx},${cy})`).attr("d", "M0,-3L2.8,1.8L-2.8,1.8Z");
    else mg.append("rect").attr("x", cx - 2.3).attr("y", cy - 2.3).attr("width", 4.6).attr("height", 4.6);
  });
});
gI.append("rect").attr("x", I.x0).attr("y", I.y0).attr("width", I.x1 - I.x0).attr("height", I.y1 - I.y0)
  .attr("fill", "none").attr("stroke", "#000").attr("stroke-width", 1);

gI.append("text").attr("x", 777).attr("y", 66.5).attr("font-size", 14.5).attr("fill", "#ff1a1a").text("E-TEK Pt/C");
gI.append("text").attr("x", 847).attr("y", 133.5).attr("font-size", 15.5).attr("font-weight", "bold").attr("fill", "#1ee01e").text("Pt-HCMS");
gI.append("text").attr("x", 790).attr("y", 205.5).attr("font-size", 13.5).attr("fill", "#000").text("Fe-N-HCMS");
gI.append("text").attr("x", (I.x0 + I.x1) / 2).attr("y", 274).attr("text-anchor", "middle")
  .attr("font-size", 14).text("Cycling number");
gI.append("text").attr("transform", "translate(950,212) rotate(-90)").attr("font-size", 19.5).text("Potential loss (%)");
</script>
</body>
</html>
